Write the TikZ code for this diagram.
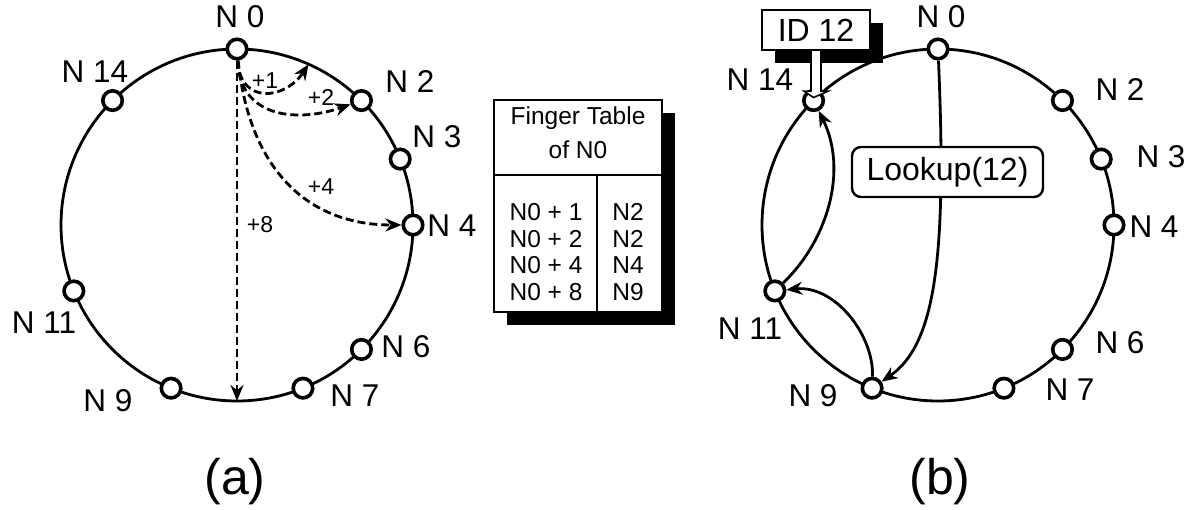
\documentclass[tikz,border=0pt]{standalone}
\usepackage{fontspec}
\setmainfont{Liberation Sans}
\usetikzlibrary{arrows.meta,shadows}
\begin{document}
\begin{tikzpicture}[x=1pt,y=1pt,
  ring/.style={line width=2.8pt},
  nd/.style={circle,draw,line width=3.6pt,fill=white,minimum size=19.5pt,inner sep=0pt},
  lbl/.style={font=\fontsize{31.5}{31.5}\selectfont,inner sep=0pt},
  small/.style={font=\fontsize{23}{23}\selectfont,inner sep=0pt},
  tabtxt/.style={font=\fontsize{24.5}{24.5}\selectfont,inner sep=0pt,align=center},
  subcap/.style={font=\fontsize{50}{50}\selectfont,inner sep=0pt},
  dsh/.style={line width=2.8pt,dash pattern=on 8pt off 4pt,-{Stealth[length=16pt,width=13pt]}},
  arr/.style={line width=2.8pt,-{Stealth[length=16pt,width=13pt]}},
  shbox/.style={draw,fill=white,line width=2.4pt,inner sep=0pt,general shadow={fill=black,shadow xshift=#1,shadow yshift=-#1}},
]
\useasboundingbox (0,0) rectangle (1198,-510);

% ---------------- (a) ----------------
\draw[ring] (237,-225) circle (176);
\foreach \n/\a in {0/90,14/135,2/45,3/22,4/0,6/-45,7/-68,9/-112,11/-158}
  \node[nd] (a\n) at ([shift={(\a:176)}]237,-225) {};
\coordinate (aone) at ([shift={(66:176)}]237,-225);
\coordinate (abot) at ([shift={(-90:176)}]237,-225);

\draw[dsh] (a0) -- (abot);
\draw[dsh] (a0) .. controls (240,-105) and (285,-100) .. (aone);
\draw[dsh] (a0) .. controls (240,-120) and (300,-122) .. (a2);
\draw[dsh] (a0) .. controls (248,-160) and (300,-225) .. (a4);

\node[small] (p1) at (265,-81) {+1};
\node[small] (p2) at (321,-97) {+2};
\node[small] (p4) at (321,-187) {+4};
\node[small] (p8) at (260,-225) {+8};

\node[lbl] (la0) at (240,-17) {N 0};
\node[lbl] (la14) at (95,-72) {N 14};
\node[lbl] (la2) at (410,-82) {N 2};
\node[lbl] (la3) at (437,-137) {N 3};
\node[lbl] (la4) at (452,-226) {N 4};
\node[lbl] (la6) at (406,-347) {N 6};
\node[lbl] (la7) at (355,-396) {N 7};
\node[lbl] (la9) at (108,-401) {N 9};
\node[lbl] (la11) at (44,-323) {N 11};

% ---------------- finger table ----------------
\node[shbox=13pt,minimum width=168pt,minimum height=212pt] (tbl) at (578,-206) {};
\coordinate (hl) at (494,-175);
\coordinate (hr) at (662,-175);
\coordinate (vt) at (597,-175);
\coordinate (vb) at (597,-312);
\draw[line width=2.4pt] (hl) -- (hr);
\draw[line width=2.4pt] (vt) -- (vb);
\node[tabtxt] (th1) at (578,-118) {Finger Table};
\node[tabtxt] (th2) at (578,-150) {of N0};
\node[tabtxt] (r1) at (546,-212) {N0 + 1};
\node[tabtxt] (r2) at (546,-239) {N0 + 2};
\node[tabtxt] (r3) at (546,-265) {N0 + 4};
\node[tabtxt] (r4) at (546,-292) {N0 + 8};
\node[tabtxt] (s1) at (628,-212) {N2};
\node[tabtxt] (s2) at (628,-239) {N2};
\node[tabtxt] (s3) at (628,-265) {N4};
\node[tabtxt] (s4) at (628,-292) {N9};

% ---------------- (b) ----------------
\draw[ring] (938,-225) circle (176);
\foreach \n/\a in {0/90,14/135,2/45,3/22,4/0,6/-45,7/-68,9/-112,11/-158}
  \node[nd] (b\n) at ([shift={(\a:176)}]938,-225) {};

\draw[arr] (b0) .. controls (947,-260) and (935,-345) .. (b9);
\node[draw,fill=white,line width=2.4pt,rounded corners=9pt,minimum width=191pt,minimum height=50pt,inner sep=0pt,font=\fontsize{32}{32}\selectfont] (look) at (947.5,-172) {Lookup(12)};
\draw[arr] (b9) .. controls (874,-335) and (835,-285) .. (b11);
\draw[arr] (b11) .. controls (828,-240) and (848,-170) .. (b14);

\node[shbox=13pt,minimum width=108pt,minimum height=40pt,font=\fontsize{32}{32}\selectfont] (id) at (816,-30) {ID 12};
\draw[fill=white,line width=1.6pt] ([xshift=-5pt]id.south) -- ++(0,-40) -- ++(-7,0) -- ([yshift=3pt]b14.center) -- ([xshift=12pt,yshift=-40pt]id.south) -- ++(-7,0) -- ([xshift=5pt]id.south);

\node[lbl] (lb0) at (941,-17) {N 0};
\node[lbl] (lb14) at (760,-80) {N 14};
\node[lbl] (lb2) at (1120,-90) {N 2};
\node[lbl] (lb3) at (1161,-157) {N 3};
\node[lbl] (lb4) at (1154,-227) {N 4};
\node[lbl] (lb6) at (1120,-343) {N 6};
\node[lbl] (lb7) at (1070,-390) {N 7};
\node[lbl] (lb9) at (813,-396) {N 9};
\node[lbl] (lb11) at (750,-329) {N 11};

\node[subcap] (capa) at (235,-482) {(a)};
\node[subcap] (capb) at (940,-482) {(b)};
\end{tikzpicture}
\end{document}
